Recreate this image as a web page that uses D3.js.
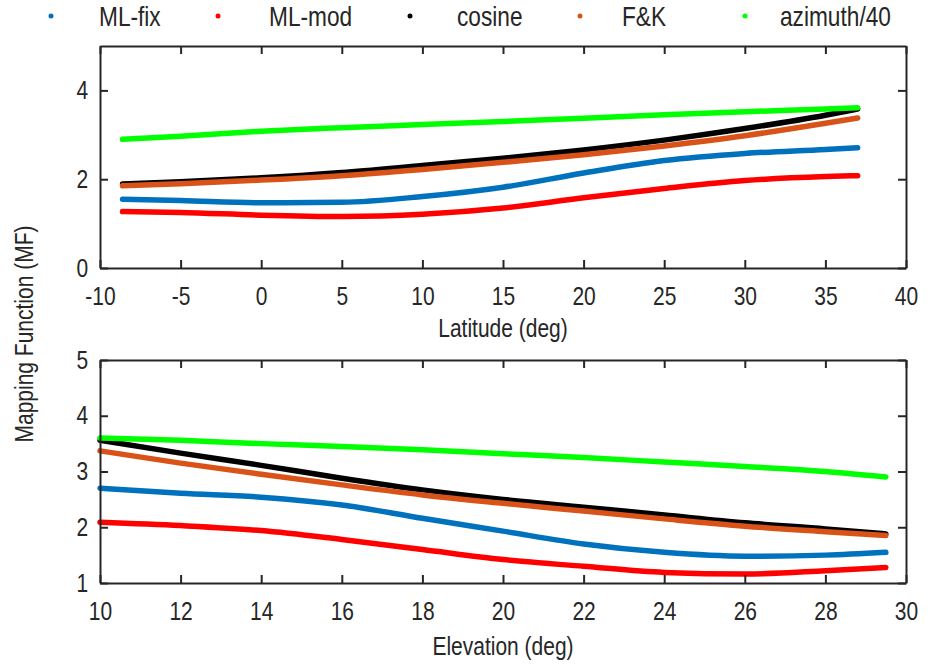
<!DOCTYPE html>
<html>
<head>
<meta charset="utf-8">
<script src="https://cdn.jsdelivr.net/npm/d3@7"></script>
<style>
  body { margin: 0; background: #fff; }
  text { font-family: Arial, "Liberation Sans", sans-serif; fill: #262626; }
</style>
</head>
<body>
<div id="chart"></div>
<script>
// series names + colours
var seriesNames = ["ML-fix", "ML-mod", "cosine", "F&K", "azimuth/40"];
var seriesColors = ["#0072BD", "#FF0000", "#000000", "#D95319", "#00FF00"];

// top panel: MF vs latitude
var latitude = [-8.6, -5, 0, 5, 10, 15, 20, 25, 30, 35, 37];
var latMLfix   = [1.55, 1.52, 1.47, 1.48, 1.61, 1.82, 2.14, 2.42, 2.58, 2.67, 2.71];
var latMLmod   = [1.27, 1.25, 1.19, 1.16, 1.21, 1.35, 1.58, 1.79, 1.97, 2.06, 2.08];
var latCosine  = [1.89, 1.94, 2.03, 2.15, 2.31, 2.47, 2.66, 2.88, 3.14, 3.44, 3.58];
var latFK      = [1.85, 1.90, 1.98, 2.08, 2.22, 2.38, 2.55, 2.75, 2.98, 3.26, 3.38];
var latAzimuth = [2.90, 2.97, 3.08, 3.16, 3.23, 3.30, 3.37, 3.45, 3.52, 3.58, 3.61];

// bottom panel: MF vs elevation
var elevation = [10, 12, 14, 16, 18, 20, 22, 24, 26, 28, 29.5];
var elMLfix   = [2.70, 2.61, 2.54, 2.40, 2.16, 1.93, 1.70, 1.55, 1.48, 1.50, 1.55];
var elMLmod   = [2.09, 2.03, 1.94, 1.78, 1.60, 1.42, 1.30, 1.19, 1.16, 1.22, 1.28];
var elCosine  = [3.56, 3.33, 3.11, 2.88, 2.67, 2.50, 2.36, 2.22, 2.08, 1.97, 1.88];
var elFK      = [3.37, 3.15, 2.95, 2.76, 2.58, 2.43, 2.29, 2.15, 2.02, 1.92, 1.85];
var elAzimuth = [3.60, 3.56, 3.50, 3.45, 3.39, 3.32, 3.25, 3.17, 3.09, 3.00, 2.90];

var latTicks = [-10, -5, 0, 5, 10, 15, 20, 25, 30, 35, 40];
var latYTicks = [0, 2, 4];
var elTicks = [10, 12, 14, 16, 18, 20, 22, 24, 26, 28, 30];
var elYTicks = [1, 2, 3, 4, 5];

var W = 933, H = 664;
var svg = d3.select("#chart").append("svg")
  .attr("width", W).attr("height", H);

var left = 100, right = 906;
var fontSize = 25;
var sx = 0.84; // the original font is a narrow one, squeeze Arial to match
var fmt = function (d) { return String(d); };

// place a text at (x,y) squeezed horizontally
function label(x, y, str, size, anchor, rot) {
  return svg.append("text")
    .attr("transform", "translate(" + x + "," + y + ")" + (rot ? " rotate(" + rot + ")" : "") + " scale(" + sx + ",1)")
    .attr("text-anchor", anchor || "start")
    .attr("font-size", size)
    .text(str);
}

function panel(cfg) {
  var x = d3.scaleLinear().domain(cfg.xDomain).range([left, right]);
  var y = d3.scaleLinear().domain(cfg.yDomain).range([cfg.bottom, cfg.top]);
  var g = svg.append("g");

  // lines
  var line = d3.line()
    .x(function (d) { return x(d[0]); })
    .y(function (d) { return y(d[1]); })
    .curve(d3.curveMonotoneX);
  cfg.series.forEach(function (vals, i) {
    g.append("path")
      .datum(cfg.xs.map(function (xv, j) { return [xv, vals[j]]; }))
      .attr("d", line)
      .attr("fill", "none")
      .attr("stroke", seriesColors[i])
      .attr("stroke-width", 5.5)
      .attr("stroke-linecap", "round")
      .attr("stroke-linejoin", "round");
  });

  // axes, MATLAB style ticks inward on all sides
  var tl = 8;
  var bx = g.append("g").attr("transform", "translate(0," + cfg.bottom + ")")
    .call(d3.axisBottom(x).tickValues(cfg.xTicks).tickFormat(fmt).tickSizeInner(-tl).tickSizeOuter(0).tickPadding(19));
  var tx = g.append("g").attr("transform", "translate(0," + cfg.top + ")")
    .call(d3.axisTop(x).tickValues(cfg.xTicks).tickSizeInner(-tl).tickSizeOuter(0).tickFormat(""));
  var ly = g.append("g").attr("transform", "translate(" + left + ",0)")
    .call(d3.axisLeft(y).tickValues(cfg.yTicks).tickFormat(fmt).tickSizeInner(-tl).tickSizeOuter(0).tickPadding(14));
  var ry = g.append("g").attr("transform", "translate(" + right + ",0)")
    .call(d3.axisRight(y).tickValues(cfg.yTicks).tickSizeInner(-tl).tickSizeOuter(0).tickFormat(""));
  [bx, tx, ly, ry].forEach(function (a) {
    a.selectAll("path").attr("stroke", "#262626").attr("stroke-width", 2);
    a.selectAll("line").attr("stroke", "#262626").attr("stroke-width", 2);
    a.selectAll("text").attr("font-size", fontSize).attr("fill", "#262626")
      .attr("font-family", "Arial, 'Liberation Sans', sans-serif")
      .attr("transform", "scale(" + sx + ",1)");
  });

  label((left + right) / 2, cfg.labelY, cfg.xLabel, fontSize, "middle");
}

panel({
  xDomain: [-10, 40], yDomain: [0, 5], top: 46, bottom: 268,
  xs: latitude,
  series: [latMLfix, latMLmod, latCosine, latFK, latAzimuth],
  xTicks: latTicks, yTicks: latYTicks,
  xLabel: "Latitude (deg)", labelY: 337
});

panel({
  xDomain: [10, 30], yDomain: [1, 5], top: 360, bottom: 583,
  xs: elevation,
  series: [elMLfix, elMLmod, elCosine, elFK, elAzimuth],
  xTicks: elTicks, yTicks: elYTicks,
  xLabel: "Elevation (deg)", labelY: 655
});

// shared y label
label(33, 334, "Mapping Function (MF)", fontSize, "middle", -90);

// legend
var legendX = [51, 218, 410, 580, 745];
var legendTextX = [99, 269, 457, 622, 780];
seriesNames.forEach(function (name, i) {
  svg.append("circle")
    .attr("cx", legendX[i]).attr("cy", 16).attr("r", 2.5)
    .attr("fill", seriesColors[i]);
  label(legendTextX[i], 26, name, 27, "start");
});
</script>
</body>
</html>
